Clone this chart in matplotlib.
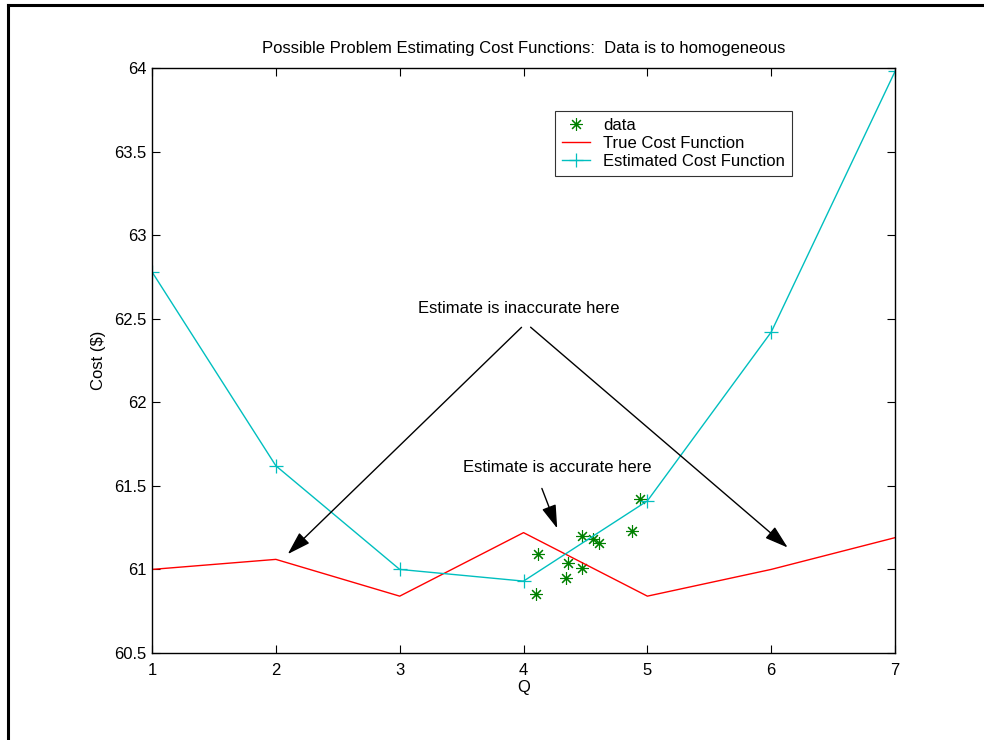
import matplotlib
matplotlib.use("Agg")
import matplotlib.pyplot as plt
from matplotlib.lines import Line2D

plt.rcParams['font.family'] = ['Liberation Sans', 'DejaVu Sans']

# data
q_grid = [1, 2, 3, 4, 5, 6, 7]
true_cost = [61.00, 61.06, 60.84, 61.22, 60.84, 61.00, 61.19]
est_cost = [62.78, 61.62, 61.00, 60.93, 61.41, 62.42, 63.98]

data_q = [4.117, 4.472, 4.561, 4.610, 4.941, 4.876, 4.359, 4.472, 4.343, 4.101]
data_cost = [61.09, 61.20, 61.18, 61.16, 61.42, 61.23, 61.04, 61.01, 60.95, 60.85]

fs = 12

fig = plt.figure(figsize=(9.84, 7.40), dpi=100)
ax = fig.add_axes([0.1545, 0.1176, 0.7551, 0.7905])

ax.plot(data_q, data_cost, linestyle='none', marker=(8, 2, 0), markersize=9,
        color=(0, 0.5, 0), markeredgewidth=0.8, label='data')
ax.plot(q_grid, true_cost, color='red', linewidth=1.0, label='True Cost Function')
ax.plot(q_grid, est_cost, color=(0, 0.75, 0.75), linewidth=1.0, marker='+',
        markersize=10, markeredgewidth=0.9, label='Estimated Cost Function')

ax.set_xlim(1, 7)
ax.set_ylim(60.5, 64)
ax.set_xticks(q_grid)
ax.set_yticks([60.5, 61, 61.5, 62, 62.5, 63, 63.5, 64])
ax.set_yticklabels(['60.5', '61', '61.5', '62', '62.5', '63', '63.5', '64'])
ax.tick_params(direction='in', top=True, right=True, length=6, labelsize=fs, width=0.8)
ax.tick_params(axis='x', pad=7)
ax.tick_params(axis='y', pad=4)
for s in ax.spines.values():
    s.set_linewidth(1.0)

ax.set_title('Possible Problem Estimating Cost Functions:  Data is to homogeneous',
             fontsize=fs, pad=11)
ax.set_xlabel('Q', fontsize=fs, labelpad=2)
ax.set_ylabel('Cost ($)', fontsize=fs, labelpad=6)

arrow = dict(arrowstyle='-|>,head_length=0.8,head_width=0.25', color='black', lw=1.0,
             mutation_scale=18)
ax.text(3.964, 62.56, 'Estimate is inaccurate here', ha='center', va='center', fontsize=fs)
ax.annotate('', xy=(2.08, 61.08), xytext=(4.0, 62.46), arrowprops=arrow)
ax.annotate('', xy=(6.15, 61.12), xytext=(4.04, 62.46), arrowprops=arrow)
ax.text(4.27, 61.61, 'Estimate is accurate here', ha='center', va='center', fontsize=fs)
ax.annotate('', xy=(4.28, 61.23), xytext=(4.14, 61.50), arrowprops=arrow)

leg = ax.legend(loc='upper left', bbox_to_anchor=(0.543, 0.926), fontsize=fs,
                frameon=True, fancybox=False, edgecolor='black', handlelength=1.7,
                borderpad=0.4, labelspacing=0.18, handletextpad=0.75, borderaxespad=0)
leg.get_frame().set_linewidth(0.8)

# page border from the original screenshot
fig.add_artist(Line2D([8 / 984, 8 / 984], [0, 1 - 5 / 740], transform=fig.transFigure,
                      color='black', linewidth=2.2))
fig.add_artist(Line2D([8 / 984, 983 / 984], [1 - 5 / 740, 1 - 5 / 740], transform=fig.transFigure,
                      color='black', linewidth=2.2))

fig.savefig('out.png', dpi=100)
